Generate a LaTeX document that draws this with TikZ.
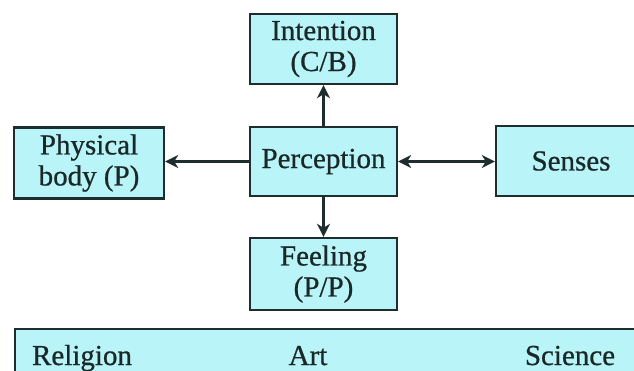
\documentclass[tikz,border=0pt]{standalone}
\usepackage{fontspec}
\newfontfamily\tnr{Liberation Serif}[FakeBold=0.7]
\usetikzlibrary{arrows.meta}
\definecolor{boxfill}{HTML}{B8F4F8}
\definecolor{boxline}{HTML}{1E2E2E}
\definecolor{txt}{HTML}{1A2828}
\tikzset{
  blk/.style={draw=boxline, fill=boxfill, line width=2.4pt, inner sep=0pt, text=txt, align=center, font=\tnr\fontsize{29}{31}\selectfont},
  conn/.style={draw=boxline, line width=2.6pt, -{Stealth[length=13pt,width=13pt,inset=4pt]}},
  dconn/.style={draw=boxline, line width=2.6pt, {Stealth[length=13pt,width=13pt,inset=4pt]}-{Stealth[length=13pt,width=13pt,inset=4pt]}},
  lbl/.style={text=txt, font=\tnr\fontsize{29}{31}\selectfont, anchor=base}
}
\begin{document}
\begin{tikzpicture}[x=1pt,y=-1pt]
\useasboundingbox (0,0) rectangle (634,370);
\clip (0,0) rectangle (634,370);
\fill[white] (0,0) rectangle (634,370);
\node[blk, minimum width=147pt, minimum height=70pt] (int) at (323.5,49) {Intention\\(C/B)};
\node[blk, minimum width=147pt, minimum height=69pt] (per) at (323.5,161.5) {Perception};
\node[blk, minimum width=150pt, minimum height=71pt] (phy) at (89,163) {Physical\\body (P)};
\node[blk, minimum width=150pt, minimum height=70pt, text width=150pt] (sen) at (571,161) {Senses};
\node[blk, minimum width=147pt, minimum height=72pt] (fee) at (323.5,274) {Feeling\\(P/P)};
\node[blk, minimum width=640pt, minimum height=60pt, anchor=north west] (bot) at (14,328) {};
\node[lbl] (rel) at (82,365) {Religion};
\node[lbl] (art) at (308,365) {Art};
\node[lbl] (sci) at (570,365) {Science};
\draw[conn] (per.north) -- (int.south);
\draw[conn] (per.south) -- (fee.north);
\draw[conn] (per.west) -- (phy.east |- per.west);
\draw[dconn] (per.east) -- (sen.west |- per.east);
\end{tikzpicture}
\end{document}
